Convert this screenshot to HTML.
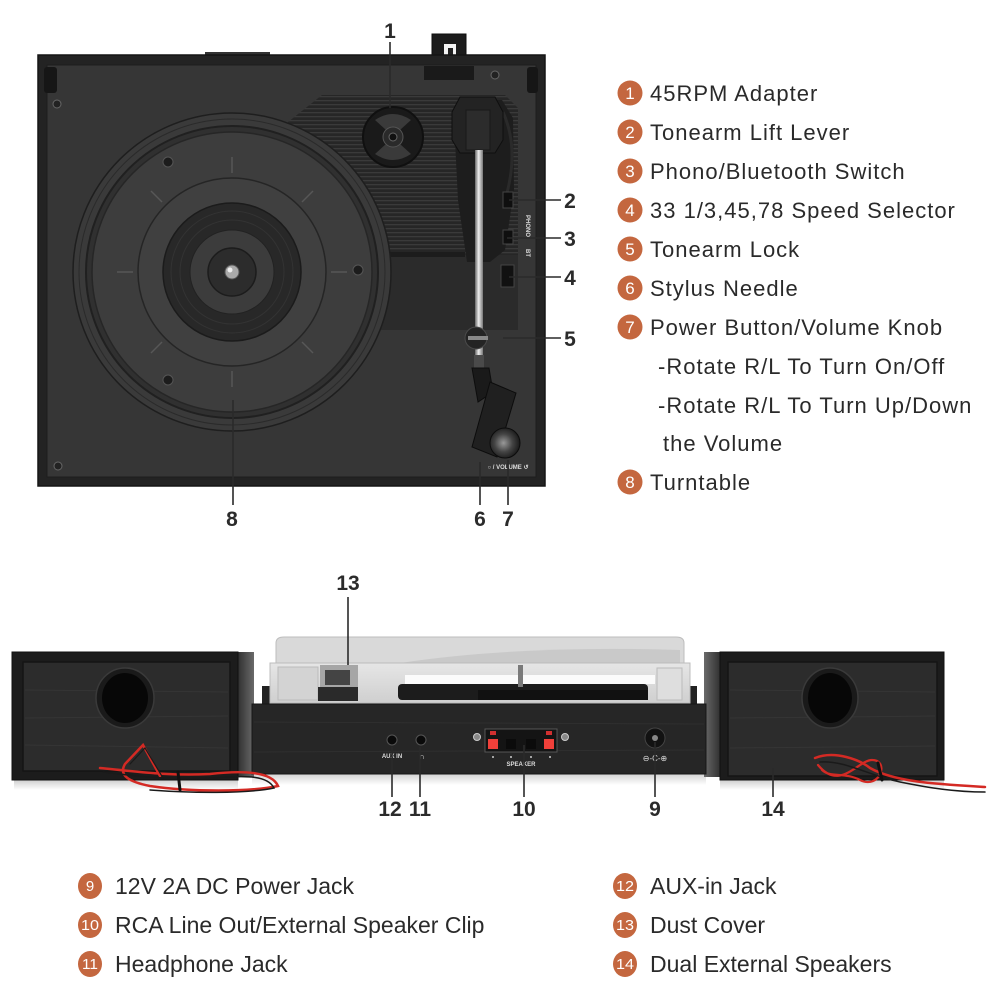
<!DOCTYPE html>
<html>
<head>
<meta charset="utf-8">
<style>
html,body{margin:0;padding:0;background:#fff;}
svg{display:block;}
text{font-family:"Liberation Sans",sans-serif;}
</style>
</head>
<body>
<svg width="1000" height="1000" viewBox="0 0 1000 1000" xmlns="http://www.w3.org/2000/svg">
<defs>
  <pattern id="stripes" width="6" height="4" patternUnits="userSpaceOnUse">
    <rect width="6" height="4" fill="#262626"/>
    <rect y="0" width="6" height="1.3" fill="#3a3a3a"/>
  </pattern>
  <linearGradient id="rod" x1="0" x2="1" y1="0" y2="0">
    <stop offset="0" stop-color="#666"/>
    <stop offset="0.45" stop-color="#eee"/>
    <stop offset="1" stop-color="#777"/>
  </linearGradient>
  <radialGradient id="knob" cx="0.45" cy="0.5" r="0.6">
    <stop offset="0" stop-color="#999"/>
    <stop offset="0.5" stop-color="#444"/>
    <stop offset="1" stop-color="#111"/>
  </radialGradient>
  <linearGradient id="sideL" x1="0" x2="1">
    <stop offset="0" stop-color="#2a2a2a"/>
    <stop offset="1" stop-color="#6a6a6a"/>
  </linearGradient>
  <linearGradient id="sideR" x1="0" x2="1">
    <stop offset="0" stop-color="#6a6a6a"/>
    <stop offset="1" stop-color="#2a2a2a"/>
  </linearGradient>
  <linearGradient id="cover" x1="0" x2="0" y1="0" y2="1">
    <stop offset="0" stop-color="#e6e6e6"/>
    <stop offset="1" stop-color="#cfcfcf"/>
  </linearGradient>
  <linearGradient id="shadow" x1="0" x2="0" y1="0" y2="1">
    <stop offset="0" stop-color="#cfcfcf"/>
    <stop offset="1" stop-color="#ffffff"/>
  </linearGradient>
</defs>

<!-- ================= TOP TURNTABLE ================= -->
<!-- hinge -->
<rect x="432" y="34" width="34" height="46" fill="#1c1c1c" stroke="#0e0e0e"/>
<rect x="444" y="44" width="12" height="11" fill="#f4f4f4"/>
<rect x="448" y="48" width="5" height="7" fill="#222"/>
<rect x="205" y="52" width="65" height="4" fill="#333"/>
<!-- plinth -->
<rect x="38" y="55" width="507" height="431" fill="#232323" stroke="#151515" stroke-width="1.5"/>
<rect x="47" y="65" width="489" height="412" fill="#363636" stroke="#1e1e1e" stroke-width="1"/>
<rect x="424" y="66" width="50" height="14" fill="#1a1a1a"/>
<!-- feet / screws -->
<rect x="44" y="67" width="13" height="26" rx="3" fill="#161616"/>
<rect x="527" y="67" width="11" height="26" rx="3" fill="#161616"/>
<circle cx="57" cy="104" r="4" fill="#222" stroke="#666"/>
<circle cx="58" cy="466" r="4" fill="#222" stroke="#666"/>
<circle cx="495" cy="75" r="4" fill="#222" stroke="#666"/>

<!-- tonearm plate -->
<polygon points="288,122 322,95 505,95 518,108 518,330 365,330 288,210" fill="url(#stripes)"/>
<rect x="365" y="255" width="153" height="75" fill="#2b2b2b"/>
<rect x="365" y="252" width="100" height="5" fill="#1c1c1c"/>

<!-- 45 adapter -->
<circle cx="393" cy="137" r="30" fill="#1a1a1a" stroke="#101010" stroke-width="2"/>
<path d="M375,120 Q393,108 411,120 L400,130 L386,130 Z" fill="#3a3a3a"/>
<path d="M375,154 Q393,166 411,154 L400,144 L386,144 Z" fill="#3a3a3a"/>
<circle cx="393" cy="137" r="10" fill="#2a2a2a" stroke="#555"/>
<circle cx="393" cy="137" r="4" fill="#111" stroke="#666"/>

<!-- platter -->
<circle cx="232" cy="272" r="159" fill="#3a3a3a" stroke="#1e1e1e" stroke-width="1.5"/>
<circle cx="232" cy="272" r="153" fill="none" stroke="#2a2a2a" stroke-width="1"/>
<circle cx="232" cy="272" r="146" fill="#303030" stroke="#202020" stroke-width="2"/>
<circle cx="232" cy="272" r="140" fill="#3d3d3d" stroke="#262626" stroke-width="1.5"/>
<g stroke="#575757" stroke-width="1.5">
  <line x1="232" y1="157" x2="232" y2="173"/>
  <line x1="232" y1="371" x2="232" y2="387"/>
  <line x1="117" y1="272" x2="133" y2="272"/>
  <line x1="331" y1="272" x2="347" y2="272"/>
  <line x1="151" y1="191" x2="162" y2="202"/>
  <line x1="313" y1="191" x2="302" y2="202"/>
  <line x1="151" y1="353" x2="162" y2="342"/>
  <line x1="313" y1="353" x2="302" y2="342"/>
</g>
<circle cx="232" cy="272" r="94" fill="#404040" stroke="#252525" stroke-width="1.5"/>
<circle cx="232" cy="272" r="69" fill="#282828" stroke="#1b1b1b" stroke-width="1.5"/>
<circle cx="232" cy="272" r="61" fill="none" stroke="#333" stroke-width="1"/>
<circle cx="232" cy="272" r="52" fill="none" stroke="#333" stroke-width="1"/>
<circle cx="232" cy="272" r="42" fill="#3c3c3c" stroke="#222"/>
<circle cx="232" cy="272" r="24" fill="#2c2c2c" stroke="#1c1c1c" stroke-width="1.5"/>
<circle cx="232" cy="272" r="7" fill="#aaa" stroke="#555"/>
<circle cx="230" cy="270" r="2.5" fill="#eee"/>
<circle cx="168" cy="162" r="5" fill="#1c1c1c" stroke="#555"/>
<circle cx="168" cy="380" r="5" fill="#1c1c1c" stroke="#555"/>
<circle cx="358" cy="270" r="5" fill="#1c1c1c" stroke="#555"/>

<!-- tonearm housing -->
<path d="M455,140 L468,100 L502,100 L513,118 L514,190 L505,250 L490,262 L467,262 L458,200 Z" fill="#1d1d1d"/>
<path d="M503,112 Q520,150 505,200" fill="none" stroke="#2a2a2a" stroke-width="3"/>
<polygon points="460,97 495,97 503,112 503,140 495,153 460,153 452,140 452,112" fill="#232323" stroke="#0f0f0f"/>
<rect x="466" y="110" width="24" height="40" fill="#2c2c2c" stroke="#181818"/>
<!-- switches -->
<rect x="503" y="192" width="10" height="16" fill="#0f0f0f" stroke="#444"/>
<rect x="503" y="230" width="10" height="14" fill="#0f0f0f" stroke="#444"/>
<rect x="501" y="265" width="13" height="22" fill="#111" stroke="#444"/>
<text x="0" y="0" font-size="6" font-weight="bold" fill="#ddd" transform="translate(526,215) rotate(90)">PHONO</text>
<text x="0" y="0" font-size="6" font-weight="bold" fill="#ddd" transform="translate(526,249) rotate(90)">BT</text>
<!-- arm rod -->
<rect x="475" y="150" width="8" height="208" fill="url(#rod)"/>
<circle cx="476" cy="338" r="11" fill="#242424" stroke="#4a4a4a"/>
<rect x="468" y="336" width="20" height="4" fill="#888"/>
<rect x="474" y="355" width="10" height="14" fill="#4a4a4a"/>
<!-- headshell / cartridge -->
<polygon points="472,368 489,368 493,392 478,402" fill="#1a1a1a" stroke="#0d0d0d"/>
<polygon points="490,382 516,393 497,457 472,447" fill="#202020" stroke="#0c0c0c"/>
<!-- volume knob -->
<circle cx="505" cy="443" r="15" fill="url(#knob)" stroke="#0c0c0c"/>
<text x="508" y="469" font-size="6" font-weight="bold" fill="#ddd" text-anchor="middle">○ / VOLUME ↺</text>

<!-- top labels & leader lines -->
<g stroke="#2a2a2a" stroke-width="1.6">
  <line x1="390" y1="42" x2="390" y2="108"/>
  <line x1="509" y1="200" x2="561" y2="200"/>
  <line x1="507" y1="238" x2="561" y2="238"/>
  <line x1="509" y1="277" x2="561" y2="277"/>
  <line x1="503" y1="338" x2="561" y2="338"/>
  <line x1="480" y1="462" x2="480" y2="505"/>
  <line x1="508" y1="460" x2="508" y2="505"/>
  <line x1="233" y1="400" x2="233" y2="505"/>
</g>
<g font-size="21" font-weight="bold" fill="#2b2b2b" text-anchor="middle">
  <text x="390" y="38">1</text>
  <text x="570" y="208">2</text>
  <text x="570" y="246">3</text>
  <text x="570" y="285">4</text>
  <text x="570" y="346">5</text>
  <text x="480" y="526">6</text>
  <text x="508" y="526">7</text>
  <text x="232" y="526">8</text>
</g>

<!-- top legend -->
<g fill="#c4673f">
  <circle cx="630" cy="93" r="12.5"/>
  <circle cx="630" cy="132" r="12.5"/>
  <circle cx="630" cy="171" r="12.5"/>
  <circle cx="630" cy="210" r="12.5"/>
  <circle cx="630" cy="249" r="12.5"/>
  <circle cx="630" cy="288" r="12.5"/>
  <circle cx="630" cy="327" r="12.5"/>
  <circle cx="630" cy="482" r="12.5"/>
</g>
<g font-size="17" fill="#fff" text-anchor="middle">
  <text x="630" y="99">1</text>
  <text x="630" y="138">2</text>
  <text x="630" y="177">3</text>
  <text x="630" y="216">4</text>
  <text x="630" y="255">5</text>
  <text x="630" y="294">6</text>
  <text x="630" y="333">7</text>
  <text x="630" y="488">8</text>
</g>
<g font-size="22" fill="#2a2a2a" letter-spacing="1">
  <text x="650" y="101">45RPM Adapter</text>
  <text x="650" y="140">Tonearm Lift Lever</text>
  <text x="650" y="179">Phono/Bluetooth Switch</text>
  <text x="650" y="218">33 1/3,45,78 Speed Selector</text>
  <text x="650" y="257">Tonearm Lock</text>
  <text x="650" y="296">Stylus Needle</text>
  <text x="650" y="335">Power Button/Volume Knob</text>
  <text x="658" y="374">-Rotate R/L To Turn On/Off</text>
  <text x="658" y="413">-Rotate R/L To Turn Up/Down</text>
  <text x="663" y="451">the Volume</text>
  <text x="650" y="490">Turntable</text>
</g>

<!-- ================= BOTTOM PRODUCT ================= -->
<!-- shadows -->
<rect x="14" y="780" width="224" height="10" fill="url(#shadow)"/>
<rect x="252" y="773" width="454" height="12" fill="url(#shadow)"/>
<rect x="720" y="780" width="224" height="10" fill="url(#shadow)"/>

<!-- side fills -->
<rect x="236" y="652" width="18" height="125" fill="url(#sideL)"/>
<rect x="704" y="652" width="18" height="125" fill="url(#sideR)"/>

<!-- left speaker -->
<rect x="12" y="652" width="226" height="128" fill="#1c1c1c" stroke="#111"/>
<rect x="23" y="662" width="207" height="109" fill="#2c2c2c" stroke="#141414" stroke-width="1.5"/>
<g stroke="#353535" stroke-width="1">
  <line x1="25" y1="690" x2="228" y2="692"/>
  <line x1="25" y1="718" x2="228" y2="716"/>
  <line x1="25" y1="745" x2="228" y2="748"/>
</g>
<ellipse cx="125" cy="698" rx="29" ry="30" fill="#1a1a1a" stroke="#3a3a3a" stroke-width="1.5"/>
<ellipse cx="125" cy="698" rx="23" ry="25" fill="#070707"/>

<!-- right speaker -->
<rect x="720" y="652" width="224" height="128" fill="#1c1c1c" stroke="#111"/>
<rect x="728" y="662" width="209" height="114" fill="#2c2c2c" stroke="#141414" stroke-width="1.5"/>
<g stroke="#353535" stroke-width="1">
  <line x1="730" y1="690" x2="935" y2="692"/>
  <line x1="730" y1="718" x2="935" y2="716"/>
  <line x1="730" y1="748" x2="935" y2="746"/>
</g>
<ellipse cx="830" cy="698" rx="28" ry="30" fill="#1a1a1a" stroke="#3a3a3a" stroke-width="1.5"/>
<ellipse cx="830" cy="698" rx="22" ry="25" fill="#070707"/>

<!-- dust cover -->
<rect x="262" y="692" width="435" height="14" fill="#1a1a1a"/>
<rect x="262" y="686" width="9" height="20" fill="#222"/>
<rect x="688" y="686" width="9" height="20" fill="#222"/>
<path d="M276,663 L276,643 Q276,637 284,637 L676,637 Q684,637 684,643 L684,663 Z" fill="#d9d9d9" stroke="#bdbdbd"/>
<path d="M400,663 Q520,645 680,650 L680,663 Z" fill="#c9c9c9"/>
<rect x="270" y="663" width="420" height="40" fill="url(#cover)" stroke="#bcbcbc"/>
<rect x="405" y="675" width="250" height="9" fill="#fbfbfb"/>
<rect x="398" y="684" width="250" height="16" rx="4" fill="#1c1c1c"/>
<rect x="478" y="690" width="170" height="10" fill="#111"/>
<rect x="518" y="665" width="5" height="22" fill="#7a7a7a"/>
<rect x="278" y="667" width="40" height="33" fill="#d3d3d3" stroke="#bbb"/>
<rect x="320" y="665" width="38" height="35" fill="#a6a6a6"/>
<rect x="325" y="670" width="25" height="15" fill="#444"/>
<rect x="318" y="687" width="40" height="14" fill="#2a2a2a"/>
<rect x="657" y="668" width="25" height="32" fill="#dedede" stroke="#bbb"/>

<!-- turntable body -->
<rect x="252" y="704" width="454" height="70" fill="#262626" stroke="#171717"/>
<g stroke="#2f2f2f" stroke-width="1">
  <line x1="254" y1="722" x2="704" y2="724"/>
  <line x1="254" y1="752" x2="704" y2="750"/>
</g>
<!-- jacks -->
<circle cx="392" cy="740" r="5" fill="#0a0a0a" stroke="#555"/>
<circle cx="421" cy="740" r="5" fill="#0a0a0a" stroke="#555"/>
<text x="392" y="758" font-size="6" font-weight="bold" fill="#ddd" text-anchor="middle">AUX IN</text>
<text x="422" y="759" font-size="8" fill="#ddd" text-anchor="middle">∩</text>
<!-- speaker terminal -->
<rect x="485" y="729" width="72" height="23" fill="#141414" stroke="#555"/>
<rect x="488" y="739" width="10" height="10" fill="#f0403a"/>
<rect x="544" y="739" width="10" height="10" fill="#f0403a"/>
<rect x="490" y="731" width="6" height="4" fill="#d03030"/>
<rect x="546" y="731" width="6" height="4" fill="#d03030"/>
<rect x="506" y="739" width="10" height="10" fill="#0b0b0b"/>
<rect x="526" y="739" width="10" height="10" fill="#0b0b0b"/>
<circle cx="477" cy="737" r="3.5" fill="#888" stroke="#ccc"/>
<circle cx="565" cy="737" r="3.5" fill="#888" stroke="#ccc"/>
<g fill="#ccc"><circle cx="493" cy="757" r="1"/><circle cx="511" cy="757" r="1"/><circle cx="531" cy="757" r="1"/><circle cx="550" cy="757" r="1"/></g>
<text x="521" y="766" font-size="6" font-weight="bold" fill="#ddd" text-anchor="middle">SPEAKER</text>
<!-- DC jack -->
<circle cx="655" cy="738" r="10" fill="#121212" stroke="#444"/>
<circle cx="655" cy="738" r="3" fill="#888"/>
<text x="655" y="761" font-size="8" fill="#ddd" text-anchor="middle">⊖-C-⊕</text>

<!-- wires left -->
<g fill="none" stroke-linecap="round">
  <path d="M100,768 C140,772 170,776 210,774 C245,770 272,772 278,786 C250,792 190,792 150,786 C130,782 118,776 125,764 L143,745 L160,776" stroke="#d42a24" stroke-width="2.5"/>
  <path d="M103,772 C140,777 175,780 215,778 C248,775 268,776 274,788 C245,794 190,793 150,790" stroke="#1a1a1a" stroke-width="1.5"/>
  <path d="M130,764 L145,748 L163,778" stroke="#1a1a1a" stroke-width="1.2"/>
  <path d="M178,772 L180,790" stroke="#111" stroke-width="3"/>
</g>
<!-- wires right -->
<g fill="none" stroke-linecap="round">
  <path d="M815,758 C835,750 860,760 870,768 C895,782 935,784 985,787" stroke="#d42a24" stroke-width="2.5"/>
  <path d="M818,765 C840,792 858,760 872,760 C890,760 880,790 860,780 C845,772 830,778 822,770" stroke="#d42a24" stroke-width="2.2"/>
  <path d="M820,762 C845,760 870,776 900,782 C930,788 955,792 985,792" stroke="#1a1a1a" stroke-width="1.5"/>
  <path d="M878,763 L882,780" stroke="#111" stroke-width="3"/>
</g>

<!-- bottom labels & lines -->
<g stroke="#2a2a2a" stroke-width="1.6">
  <line x1="348" y1="597" x2="348" y2="665"/>
  <line x1="392" y1="747" x2="392" y2="797"/>
  <line x1="420" y1="747" x2="420" y2="797"/>
  <line x1="524" y1="745" x2="524" y2="797"/>
  <line x1="655" y1="742" x2="655" y2="797"/>
  <line x1="773" y1="768" x2="773" y2="797"/>
</g>
<g font-size="21" font-weight="bold" fill="#2b2b2b" text-anchor="middle">
  <text x="348" y="590">13</text>
  <text x="390" y="816">12</text>
  <text x="420" y="816">11</text>
  <text x="524" y="816">10</text>
  <text x="655" y="816">9</text>
  <text x="773" y="816">14</text>
</g>

<!-- bottom legend -->
<g fill="#c4673f">
  <ellipse cx="90" cy="886" rx="12" ry="13"/>
  <ellipse cx="90" cy="925" rx="12" ry="13"/>
  <ellipse cx="90" cy="964" rx="12" ry="13"/>
  <ellipse cx="625" cy="886" rx="12" ry="13"/>
  <ellipse cx="625" cy="925" rx="12" ry="13"/>
  <ellipse cx="625" cy="964" rx="12" ry="13"/>
</g>
<g font-size="15" fill="#fff" text-anchor="middle">
  <text x="90" y="891">9</text>
  <text x="90" y="930" textLength="18" lengthAdjust="spacingAndGlyphs">10</text>
  <text x="90" y="969" textLength="16" lengthAdjust="spacingAndGlyphs">11</text>
  <text x="625" y="891" textLength="18" lengthAdjust="spacingAndGlyphs">12</text>
  <text x="625" y="930" textLength="18" lengthAdjust="spacingAndGlyphs">13</text>
  <text x="625" y="969" textLength="18" lengthAdjust="spacingAndGlyphs">14</text>
</g>
<g font-size="23" fill="#2a2a2a">
  <text x="115" y="894">12V 2A DC Power Jack</text>
  <text x="115" y="933">RCA Line Out/External Speaker Clip</text>
  <text x="115" y="972">Headphone Jack</text>
  <text x="650" y="894">AUX-in Jack</text>
  <text x="650" y="933">Dust Cover</text>
  <text x="650" y="972">Dual External Speakers</text>
</g>
</svg>
</body>
</html>
